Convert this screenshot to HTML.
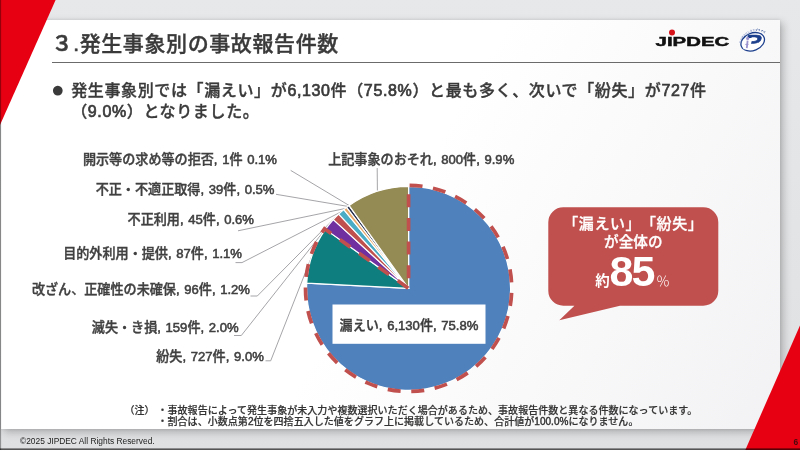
<!DOCTYPE html>
<html lang="ja">
<head>
<meta charset="utf-8">
<title>発生事象別の事故報告件数</title>
<style>
html,body{margin:0;padding:0;}
body{width:800px;height:450px;overflow:hidden;position:relative;background:linear-gradient(180deg,#e7e8e9 0%,#dfe0e2 100%);font-family:"Liberation Sans","Noto Sans CJK JP",sans-serif;color:#3f3f3f;}
.abs{position:absolute;white-space:nowrap;text-spacing-trim:space-all;}
#card{position:absolute;left:1.2px;top:20px;width:778.5px;height:408.7px;background:linear-gradient(120deg,#ffffff 0%,#ffffff 50%,#f2f2f4 100%);box-shadow:3px 3px 8px rgba(0,0,0,0.24),0 0 3px rgba(0,0,0,0.10);}
#title{left:51.6px;top:28px;font-size:21px;line-height:32px;letter-spacing:0.6px;font-weight:500;color:#3a3a3a;-webkit-text-stroke:0.4px #3a3a3a;}
#rule{position:absolute;left:52px;top:61.5px;width:728px;height:1px;background:#6b6b6b;}
.lead{font-size:16px;line-height:20.5px;letter-spacing:0.63px;font-weight:500;color:#3a3a3a;-webkit-text-stroke:0.35px #3a3a3a;}
.lead .n{-webkit-text-stroke:0.7px #3a3a3a;}
.lbl{font-size:13.1px;word-spacing:1px;line-height:16px;font-weight:500;color:#404040;text-align:right;-webkit-text-stroke:0.38px #404040;}
.lbl .n{-webkit-text-stroke:0.55px #404040;}
.note{font-size:10px;line-height:11px;font-weight:500;color:#333;letter-spacing:0.04px;-webkit-text-stroke:0.2px #333;}
.co{text-align:center;color:#fff;font-weight:500;-webkit-text-stroke:0.3px #fff;}
.note .n{-webkit-text-stroke:0.4px #333;}
#copy{left:20px;top:435.5px;font-size:8.4px;line-height:11px;color:#222;font-family:"Liberation Sans",sans-serif;}
#pg{left:793.6px;top:437.4px;font-size:8.4px;line-height:10px;color:#4a0a0e;font-weight:bold;font-family:"Liberation Sans",sans-serif;}
svg{position:absolute;left:0;top:0;}
</style>
</head>
<body>
<div id="card"></div>
<svg width="800" height="450" viewBox="0 0 800 450">
  <polygon points="0,0 55.6,0 0,124.9" fill="#e60012"/>
  <polygon points="800,325.5 800,450 745.3,450" fill="#e60012"/>
  <rect x="0" y="448.4" width="800" height="1.6" fill="#000" fill-opacity="0.62"/>
  <rect x="0" y="0" width="1.1" height="450" fill="#000" fill-opacity="0.35"/>
  <g fill="none" stroke="#9b9b9f" stroke-width="0.9">
    <polyline points="290.7,170.4 349.2,205.5"/>
    <polyline points="276.0,194.3 347.9,206.4"/>
    <polyline points="238.0,230.8 345.2,208.5"/>
    <polyline points="235.5,262.6 242.0,262.6 341.2,211.8"/>
    <polyline points="250.5,296.0 257.3,296.0 335.9,216.8"/>
    <polyline points="234.0,335.5 241.3,335.5 329.2,224.3"/>
    <polyline points="265.5,360.8 270.7,360.8 312.3,254.9"/>
    <polyline points="377.2,168.0 377.4,191.3"/>
  </g>
  <path d="M408.6,288.4 L408.60,186.40 A102.0,102.0 0 1 1 306.74,283.09 Z" fill="#4F81BD" stroke="#fff" stroke-width="1.2" stroke-linejoin="round"/>
  <path d="M408.6,288.4 L306.74,283.09 A102.0,102.0 0 0 1 325.41,229.37 Z" fill="#0E7F7E" stroke="#fff" stroke-width="1.2" stroke-linejoin="round"/>
  <path d="M408.6,288.4 L325.41,229.37 A102.0,102.0 0 0 1 333.32,219.57 Z" fill="#7030A0" stroke="#fff" stroke-width="1.2" stroke-linejoin="round"/>
  <path d="M408.6,288.4 L333.32,219.57 A102.0,102.0 0 0 1 338.67,214.15 Z" fill="#C0504D" stroke="#fff" stroke-width="1.2" stroke-linejoin="round"/>
  <path d="M408.6,288.4 L338.67,214.15 A102.0,102.0 0 0 1 343.84,209.59 Z" fill="#4BACC6" stroke="#fff" stroke-width="1.2" stroke-linejoin="round"/>
  <path d="M408.6,288.4 L343.84,209.59 A102.0,102.0 0 0 1 346.64,207.38 Z" fill="#E8A868" stroke="#fff" stroke-width="1.2" stroke-linejoin="round"/>
  <path d="M408.6,288.4 L346.64,207.38 A102.0,102.0 0 0 1 349.12,205.54 Z" fill="#232D4B" stroke="#fff" stroke-width="1.2" stroke-linejoin="round"/>
  <path d="M408.6,288.4 L349.12,205.54 A102.0,102.0 0 0 1 349.19,205.49 Z" fill="#8064A2" stroke="#fff" stroke-width="1.2" stroke-linejoin="round"/>
  <path d="M408.6,288.4 L349.19,205.49 A102.0,102.0 0 0 1 408.60,186.40 Z" fill="#948A54" stroke="#fff" stroke-width="1.2" stroke-linejoin="round"/>
  <path d="M408.60,185.30 A103.1,103.1 0 1 1 324.52,228.74 L408.6,288.4 Z" fill="none" stroke="#C0504D" stroke-width="3.7" stroke-dasharray="13 10.62" stroke-dashoffset="-1" stroke-linejoin="miter"/>
  <rect x="332.5" y="304.5" width="153" height="39.3" fill="#fff"/>
  <path d="M563.3,207.3 H703.3 A15,15 0 0 1 718.3,222.3 V290.7 A15,15 0 0 1 703.3,305.7 H620 L559.3,320.3 L574.4,305.7 H563.3 A15,15 0 0 1 548.3,290.7 V222.3 A15,15 0 0 1 563.3,207.3 Z" fill="#C0504D"/>
</svg>
<div id="rule"></div>
<div id="title" class="abs"><span style="-webkit-text-stroke:0.65px #3a3a3a;">３.</span>発生事象別の事故報告件数</div>
<div class="abs" style="left:51.1px;top:77.1px;font-size:22.5px;line-height:26px;color:#3a3a3a;">●</div>
<div class="abs lead" style="left:71.2px;top:81.3px;">発生事象別では「漏えい」が<span class="n">6,130</span>件（<span class="n">75.8%</span>）と最も多く、次いで「紛失」が<span class="n">727</span>件<br>（<span class="n">9.0%</span>）となりました。</div>

<div class="abs lbl" style="right:523.0px;top:152.0px;">開示等の求め等の拒否<span class="n">, 1</span>件<span class="n"> 0.1%</span></div>
<div class="abs lbl" style="right:525.5px;top:181.9px;">不正・不適正取得<span class="n">, 39</span>件<span class="n">, 0.5%</span></div>
<div class="abs lbl" style="right:546.0px;top:212.1px;">不正利用<span class="n">, 45</span>件<span class="n">, 0.6%</span></div>
<div class="abs lbl" style="right:558.0px;top:245.5px;">目的外利用・提供<span class="n">, 87</span>件<span class="n">, 1.1%</span></div>
<div class="abs lbl" style="right:550.0px;top:281.8px;">改ざん、正確性の未確保<span class="n">, 96</span>件<span class="n">, 1.2%</span></div>
<div class="abs lbl" style="right:561.4px;top:320.0px;">滅失・き損<span class="n">, 159</span>件<span class="n">, 2.0%</span></div>
<div class="abs lbl" style="right:536.2px;top:348.5px;">紛失<span class="n">, 727</span>件<span class="n">, 9.0%</span></div>
<div class="abs lbl" style="left:328.2px;top:152.3px;">上記事象のおそれ<span class="n">, 800</span>件<span class="n">, 9.9%</span></div>
<div class="abs lbl" style="left:332.5px;top:304.5px;width:153px;height:39.3px;line-height:42px;text-align:center;color:#3a3a3a;">漏えい<span class="n">, 6,130</span>件<span class="n">, 75.8%</span></div>

<div class="abs co" style="left:548.3px;top:213.8px;width:170px;font-size:15px;line-height:20px;letter-spacing:0.55px;">「漏えい」「紛失」</div>
<div class="abs co" style="left:548.3px;top:231.7px;width:170px;font-size:14.6px;line-height:20px;">が全体の</div>
<div class="abs co" style="left:595.2px;top:271.3px;font-size:14.5px;line-height:20px;font-weight:700;-webkit-text-stroke:0;">約</div>
<div class="abs co" style="left:609.5px;top:245.8px;font-size:43px;line-height:50px;font-weight:bold;letter-spacing:-1.8px;-webkit-text-stroke:0;">85</div>
<div class="abs co" style="left:656px;top:271px;font-size:14px;line-height:20px;font-weight:300;-webkit-text-stroke:0;">％</div>

<div class="abs note" style="left:124.5px;top:404.5px;">（注）</div>
<div class="abs note" style="left:157.5px;top:404.5px;">・事故報告によって発生事象が未入力や複数選択いただく場合があるため、事故報告件数と異なる件数になっています。<br>・割合は、小数点第<span class="n">2</span>位を四捨五入した値をグラフ上に掲載しているため、合計値が<span class="n">100.0%</span>になりません。</div>
<div id="copy" class="abs">©2025 JIPDEC All Rights Reserved.</div>
<div id="pg" class="abs">6</div>

<svg width="800" height="450" viewBox="0 0 800 450" style="pointer-events:none">
  <text x="655.6" y="45.7" font-family="'Liberation Sans',sans-serif" font-weight="bold" font-size="12.6" fill="#111" stroke="#111" stroke-width="0.45" textLength="73.6" lengthAdjust="spacingAndGlyphs">JIPDEC</text>
  <circle cx="672" cy="32.6" r="3" fill="#d7141a"/>
  <g transform="translate(752.7,41.8)">
    <defs><path id="parc" d="M-11.6,1.5 A13.6,10.2 -22 0 1 12.2,-8.2"/></defs>
    <ellipse cx="0" cy="0" rx="12.2" ry="8.7" transform="rotate(-22)" fill="#fff" stroke="#1c3f8c" stroke-width="1.3"/>
    <text transform="translate(-9.8,6.4) skewX(-16) scale(1.3,1)" x="0" y="0" font-family="'Liberation Sans',sans-serif" font-weight="bold" font-size="19" fill="#1c3f8c" stroke="#1c3f8c" stroke-width="0.5">P</text>
    <polygon points="-6.2,-3.9 -0.2,-3.9 -3.2,7.5 -9.5,7.5" fill="#fff"/>
    <circle cx="-5" cy="-3.4" r="1.6" fill="#9a93cf"/>
    <path d="M-5.1,-1.2 L-5.9,6.4" stroke="#9a93cf" stroke-width="1.8" fill="none"/>
    <path d="M-7.4,2.6 H-4.2" stroke="#9a93cf" stroke-width="1" fill="none"/>
    <text font-family="'Liberation Sans','Noto Sans CJK JP',sans-serif" font-size="2.5" font-weight="bold" fill="#7f8fc4"><textPath href="#parc" startOffset="0">たいせつにします<tspan fill="#1c3f8c">プライバシー</tspan></textPath></text>
  </g>
</svg>
</body>
</html>
